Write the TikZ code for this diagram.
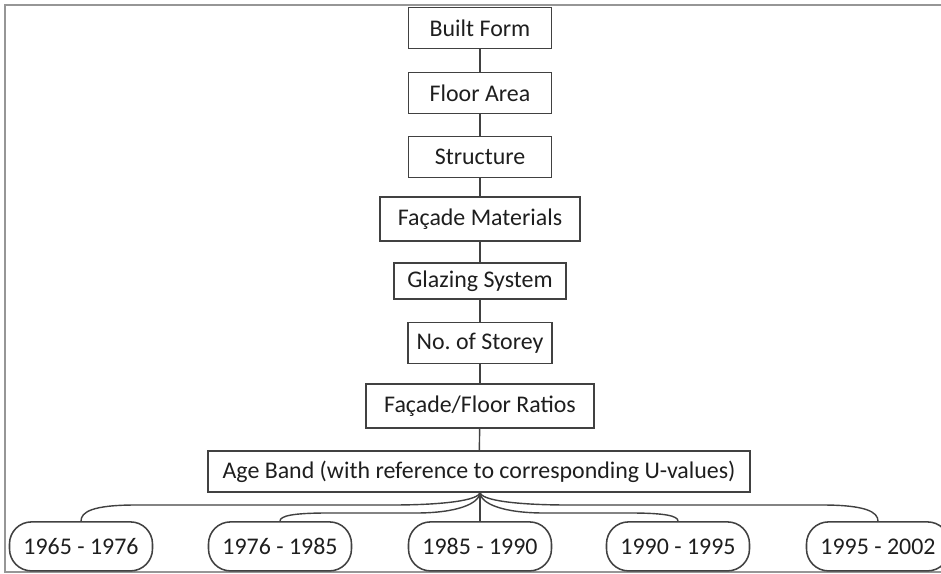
\documentclass[tikz,border=0pt]{standalone}
\usepackage{fontspec}
\setmainfont{Carlito}
\usepackage{tikz}
\usetikzlibrary{positioning}
\definecolor{abGray}{RGB}{65,65,65}
\definecolor{abText}{RGB}{30,30,30}
\definecolor{abFrame}{RGB}{150,150,150}

\begin{document}
\begin{tikzpicture}[
    stage/.style={draw=abGray, line width=1.1pt, text=abText, minimum height=1.025cm,
      inner sep=0pt, font=\fontsize{17}{20}\selectfont},
    period/.style={stage, rounded corners=0.55cm, minimum width=3.575cm, minimum height=1.225cm},
    link/.style={abGray, line width=1pt}
  ]
  \useasboundingbox (0,0) rectangle (23.525,-14.35);

  % Frame (open on the right)
  \draw[abFrame, line width=1.3pt] (23.525,-0.125) -- (0.125,-0.125) -- (0.125,-14.3) -- (23.525,-14.3);

  % Main column
  \node[stage, minimum width=3.575cm] (built) at (12,-0.70) {Built Form};
  \node[stage, minimum width=3.575cm] (floor) at (12,-2.325) {Floor Area};
  \node[stage, minimum width=3.575cm] (structure) at (12,-3.925) {Structure};
  \node[stage, minimum width=5.0cm, minimum height=1.1cm] (facade) at (12,-5.475) {Façade Materials};
  \node[stage, minimum width=4.3cm, minimum height=0.9cm] (glazing) at (12,-7.025) {Glazing System};
  \node[stage, minimum width=3.6cm] (storey) at (12,-8.575) {No.\ of Storey};
  \node[stage, minimum width=5.7cm, minimum height=1.1cm] (ratios) at (12,-10.15) {Façade/Floor Ratios};
  \node[stage, minimum width=13.55cm] (ageband) at (11.975,-11.79) {Age Band (with reference to corresponding U-values)};

  \foreach \a/\b in {built/floor, floor/structure, structure/facade, facade/glazing,
                     glazing/storey, storey/ratios, ratios/ageband}
    \draw[link] (\a) -- (\b);

  % Age bands
  \node[period] (p1965) at (2.025,-13.66) {1965 - 1976};
  \node[period] (p1976) at (7.0,-13.66) {1976 - 1985};
  \node[period] (p1985) at (12.0,-13.66) {1985 - 1990};
  \node[period] (p1990) at (16.95,-13.66) {1990 - 1995};
  \node[period] (p1995) at (21.95,-13.66) {1995 - 2002};

  % Brace-like connectors
  \coordinate (hub) at (12,-12.3);
  \draw[link] (hub) -- (p1985.north);
  \draw[link] (hub) .. controls (12,-12.52) and (11.0,-12.625) .. (9.8,-12.625) -- (3.4,-12.625)
    .. controls (2.3,-12.625) and (2.025,-12.8) .. (p1965.north);
  \draw[link] (hub) .. controls (12,-12.6) and (11.4,-12.825) .. (10.4,-12.825) -- (8.2,-12.825)
    .. controls (7.3,-12.825) and (7.0,-12.9) .. (p1976.north);
  \draw[link] (hub) .. controls (12,-12.6) and (12.6,-12.825) .. (13.6,-12.825) -- (15.75,-12.825)
    .. controls (16.65,-12.825) and (16.95,-12.9) .. (p1990.north);
  \draw[link] (hub) .. controls (12,-12.52) and (13.0,-12.625) .. (14.2,-12.625) -- (20.55,-12.625)
    .. controls (21.65,-12.625) and (21.95,-12.8) .. (p1995.north);
\end{tikzpicture}
\end{document}
